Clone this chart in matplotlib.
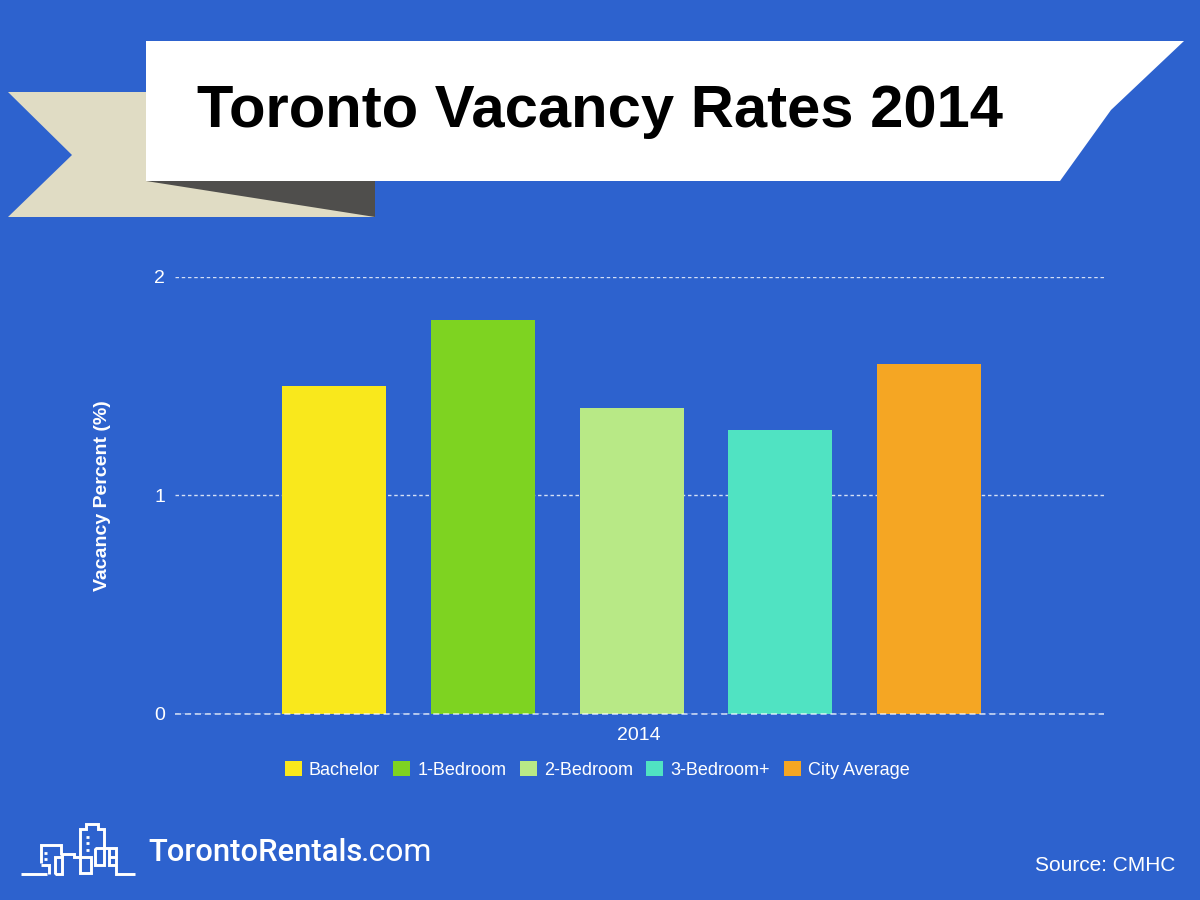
import matplotlib
matplotlib.use('Agg')
import matplotlib.pyplot as plt
from matplotlib.patches import Polygon, Patch

categories = ['Bachelor', '1-Bedroom', '2-Bedroom', '3-Bedroom+', 'City Average']
values = [1.5, 1.8, 1.4, 1.3, 1.6]
colors = ['#F9E81C', '#7ED321', '#B8E986', '#50E3C2', '#F5A623']
yticks = [0, 1, 2]
year = '2014'

BG = '#2D62CE'
plt.rcParams['font.family'] = ['Liberation Sans', 'DejaVu Sans']

fig = plt.figure(figsize=(12, 9), dpi=100, facecolor=BG)

# overlay in pixel coords for banner and logo
deco = fig.add_axes([0, 0, 1, 1], zorder=0)
deco.set_xlim(0, 1200)
deco.set_ylim(900, 0)
deco.axis('off')

deco.add_patch(Polygon([(8, 92), (375, 92), (375, 217), (8, 217), (72, 155)], fc='#E0DCC4', ec='none'))
deco.add_patch(Polygon([(146, 181), (375, 181), (375, 217)], fc='#4F4E4C', ec='none'))
deco.add_patch(Polygon([(146, 41), (1184, 41), (1111, 110), (1060, 181), (146, 181)], fc='white', ec='none'))
deco.text(197, 127, 'Toronto Vacancy Rates 2014', fontsize=43, fontweight='bold', color='black', va='baseline', ha='left')

# logo
logo_lines = [
    [(21, 874), (47, 874)],
    [(41, 863), (41, 845), (61, 845), (61, 855)],
    [(41, 865), (49, 865), (49, 874)],
    [(55, 874), (55, 857), (62, 857), (62, 874), (55, 874)],
    [(62, 857), (62, 854), (74, 854), (74, 857), (80, 857)],
    [(80, 857), (80, 829), (86, 829), (86, 824), (98, 824), (98, 829), (104, 829), (104, 848)],
    [(80, 857), (91, 857), (91, 873), (80, 873), (80, 857)],
    [(95, 848), (95, 865), (104, 865), (104, 848), (95, 848)],
    [(104, 848), (116, 848), (116, 874), (135, 874)],
    [(109, 848), (109, 865), (116, 865)],
    [(109, 857), (116, 857)],
]
for pts in logo_lines:
    deco.plot([p[0] for p in pts], [p[1] for p in pts], color='white', lw=2.1, solid_joinstyle='miter', solid_capstyle='butt')
for wx, wy in [(87, 837), (87, 843), (87, 850), (45, 853), (45, 859)]:
    deco.plot([wx - 1.5, wx + 1.5], [wy, wy], color='white', lw=2, solid_capstyle='butt')

deco.text(148, 861, 'TorontoRentals', fontsize=22.3, family='Roboto', fontweight='medium', color='white', va='baseline')
deco.text(361, 861, '.com', fontsize=23, family='Roboto', fontweight='normal', color='white', va='baseline')
deco.text(1175, 871, 'Source: CMHC', fontsize=15, color='white', ha='right', va='baseline')

# chart
ax = fig.add_axes([175 / 1200, 1 - 714 / 900, 929 / 1200, 437.5 / 900], zorder=1)
ax.patch.set_alpha(0)
x = list(range(len(categories)))
ax.bar(x, values, width=0.7, color=colors, zorder=2)
ax.set_xlim(-1.073, 5.178)
ax.set_ylim(0, 2)
ax.set_yticks(yticks)
ax.set_yticklabels([str(v) for v in yticks], color='white', fontsize=14)
ax.tick_params(axis='y', length=0, pad=7)
ax.tick_params(axis='x', length=0)
ax.set_xticks([2.05])
ax.set_xticklabels([year], color='white', fontsize=14)
ax.tick_params(axis='x', pad=9)
ax.yaxis.grid(True, color='white', alpha=0.8, lw=1, ls=(0, (2.5, 2)), zorder=1)
ax.set_axisbelow(True)
for s in ['top', 'right', 'left', 'bottom']:
    ax.spines[s].set_visible(False)
ax.plot([0, 1], [0, 0], transform=ax.transAxes, color='white', alpha=0.8, lw=1.1, ls=(0, (4, 2.5)), clip_on=False, zorder=3)
ax.set_ylabel('Vacancy Percent (%)', color='white', fontsize=14, fontweight='bold', labelpad=0)
ax.yaxis.set_label_coords((111 - 175) / 929, 0.5)

handles = [Patch(fc=c, ec='none', label=n) for c, n in zip(colors, categories)]
leg = fig.legend(handles=handles, loc='center', bbox_to_anchor=(597 / 1200, 1 - 770 / 900), ncol=5,
                 frameon=False, fontsize=13, labelcolor='white', handlelength=0.94, handleheight=0.94,
                 handletextpad=0.39, columnspacing=0.75)

fig.savefig('out.png', dpi=100, facecolor=BG)
